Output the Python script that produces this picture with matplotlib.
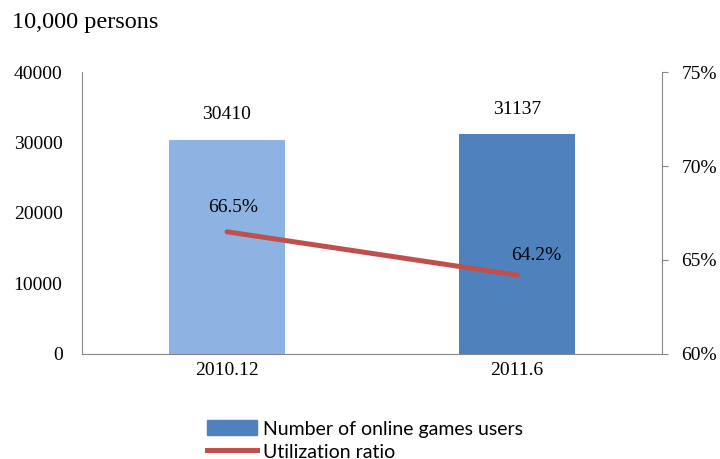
import matplotlib.pyplot as plt
from matplotlib.lines import Line2D
from matplotlib.patches import Patch

periods = ["2010.12", "2011.6"]
users = [30410, 31137]          # 10,000 persons
ratio = [66.5, 64.2]            # utilization ratio, %
y_ticks = [0, 10000, 20000, 30000, 40000]
pct_ticks = [60, 65, 70, 75]

serif = "Liberation Serif"
bar_colors = ["#8db3e2", "#4f81bd"]
line_color = "#c0504d"
axis_gray = "#868686"

fig = plt.figure(figsize=(7.2, 4.59), dpi=100)

ax = fig.add_axes([0.1139, 0.2288, 0.8055, 0.6143])
x = list(range(len(periods)))
ax.bar(x, users, width=0.4, color=bar_colors, zorder=2)
ax.set_xlim(-0.5, 1.5)
ax.set_ylim(0, 40000)
ax.set_yticks(y_ticks)
ax.set_yticklabels([str(v) for v in y_ticks], family=serif, fontsize=14)
ax.set_xticks(x)
ax.set_xticklabels(periods, family=serif, fontsize=14)
ax.tick_params(axis="y", length=0, pad=14)
ax.tick_params(axis="x", length=0, pad=6)
for side in ["top", "right"]:
    ax.spines[side].set_visible(False)
for side in ["left", "bottom"]:
    ax.spines[side].set_color(axis_gray)
for xi, v in zip(x, users):
    ax.text(xi, v + 2300, str(v), ha="center", va="bottom", family=serif, fontsize=14)

ax2 = ax.twinx()
ax2.plot(x, ratio, color=line_color, lw=3.6, solid_capstyle="round", zorder=3)
ax2.set_ylim(60, 75)
ax2.set_yticks(pct_ticks)
ax2.set_yticklabels([f"{v}%" for v in pct_ticks], family=serif, fontsize=14)
ax2.tick_params(axis="y", length=4, color=axis_gray, pad=10)
for side in ["top", "left", "bottom"]:
    ax2.spines[side].set_visible(False)
ax2.spines["right"].set_color(axis_gray)
ax2.text(x[0] + 0.02, ratio[0] + 1.3, f"{ratio[0]}%", ha="center", va="center",
         family=serif, fontsize=14)
ax2.text(x[1] + 0.065, ratio[1] + 1.05, f"{ratio[1]}%", ha="center", va="center",
         family=serif, fontsize=14)

fig.text(0.017, 0.952, "10,000 persons", family=serif, fontsize=17.5, ha="left", va="center")

handles = [Patch(color=bar_colors[1]), Line2D([], [], color=line_color, lw=3.6)]
fig.legend(handles, ["Number of online games users", "Utilization ratio"],
           loc="lower left", bbox_to_anchor=(0.268, -0.033), frameon=False,
           prop={"family": "Lato", "size": 14}, handlelength=2.6, handleheight=0.8,
           handletextpad=0.3, labelspacing=0.3, borderpad=0.2)

fig.savefig("out.png", dpi=100)
